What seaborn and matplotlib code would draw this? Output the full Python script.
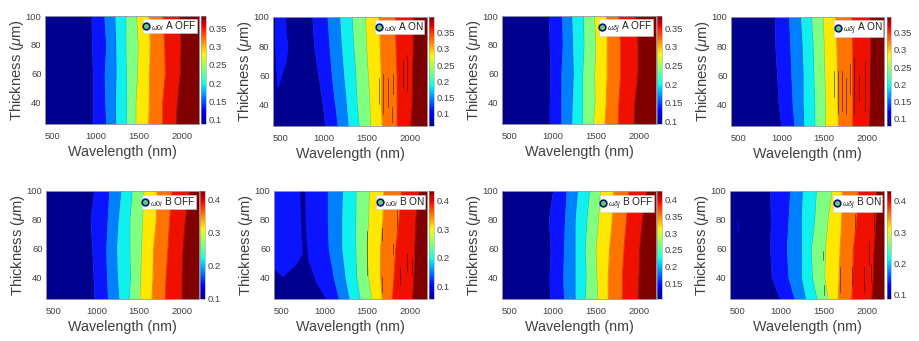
import matplotlib
matplotlib.use("Agg")
import matplotlib.pyplot as plt
import numpy as np
import pandas as pd
import seaborn as sns
from matplotlib.cm import ScalarMappable
from matplotlib.colors import Normalize
from matplotlib.lines import Line2D

thickness = [25, 40, 60, 80, 100]

a_off_0i = [[964,964,964,952,948],[1119,1107,1100,1119,1096],[1235,1231,1239,1235,1224],[1359,1359,1359,1351,1351],
            [1468,1468,1487,1495,1475],[1611,1619,1623,1630,1619],[1774,1774,1805,1797,1778],[1932,1944,1979,1987,1971]]
a_on_0i = [[1013,985,935,885,865],[1160,1129,1090,1063,1040],[1285,1265,1234,1207,1187],[1413,1390,1374,1351,1331],
           [1545,1537,1518,1498,1487],[1677,1665,1665,1654,1642],[1848,1848,1848,1836,1829],[2004,2023,2031,2035,2035]]
a_off_dj = [[961,961,969,961,950],[1097,1097,1097,1113,1105],[1222,1229,1241,1233,1222],[1350,1350,1350,1365,1357],
            [1474,1493,1489,1501,1486],[1602,1618,1629,1629,1622],[1757,1765,1785,1785,1765],[1940,1948,1987,1987,1960]]
a_on_dj = [[996,965,946,926,919],[1148,1128,1113,1101,1086],[1264,1256,1256,1245,1225],[1392,1392,1381,1373,1354],
           [1517,1517,1509,1501,1490],[1664,1656,1656,1645,1633],[1831,1831,1831,1831,1820],[2025,2033,2033,2041,2041]]
b_off_0i = [[975,964,948,929,972],[1132,1120,1112,1128,1147],[1264,1248,1237,1256,1288],[1385,1401,1393,1393,1420],
            [1510,1518,1529,1541,1557],[1646,1658,1666,1697,1705],[1802,1810,1833,1853,1880],[1997,1997,2009,2036,2083]]
b_on_0i = [[410,410,410,410,410],[1165,1106,1047,1036,1036],[1290,1243,1204,1204,1212],[1419,1380,1368,1368,1372],
           [1556,1517,1497,1517,1528],[1673,1653,1653,1681,1692],[1790,1810,1829,1868,1900],[2025,2044,2052,2064,2103]]
b_off_dj = [[964,960,972,952,999],[1127,1119,1127,1138,1158],[1262,1262,1262,1262,1289],[1379,1390,1379,1398,1429],
            [1526,1514,1503,1533,1553],[1642,1642,1657,1688,1708],[1805,1805,1824,1851,1882],[1987,1998,2006,2037,2084]]
b_on_dj = [[990,893,874,882,874],[1156,1087,1067,1087,1106],[1291,1241,1241,1241,1253],[1423,1369,1357,1396,1415],
           [1550,1512,1520,1550,1597],[1666,1674,1686,1705,1713],[1821,1833,1840,1879,1898],[2053,2072,2080,2103,2111]]

# isolated regions: wavelength, thickness outline
a_on_patch_wl = [457,449,441,433,433,433,566,566,589,573,519,480]
a_on_patch_t = [52,60,70,80,90,100,100,90,80,70,60,52]
b_on_navy_wl = [410,512,676,746,735,715,774,785,813,910,1020,410]
b_on_navy_t = [46,40,49,56,70,100,100,70,51.5,35.4,25,25]
b_on_dj_speck_wl = [500,514,500]
b_on_dj_speck_t = [70,75,80]

# dark streaks: wavelength, thickness start, thickness end
streaks_a_on_0i = [(1646,40,58),(1684,33,61),(1750,38,58),(1808,47,61),(1917,52,70),(1971,49,74),(2041,56,72),(2087,52,88),(2118,68,88),(1790,28,38)]
streaks_a_on_dj = [(1611,45,63),(1658,33,63),(1709,35,63),(1759,33,58),(1806,47,68),(1853,33,72),(1903,42,60),(1981,35,70),(2048,49,74),(2087,56,88)]
streaks_b_on_0i = [(1670,30,40),(1670,65,74),(1806,56,63),(1884,35,47),(1962,44,56),(2020,42,53),(1845,74,88),(1494,42,72)]
streaks_b_on_dj = [(1491,52,58),(1498,28,35),(1684,30,47),(1866,74,84),(1828,35,47),(1963,30,47),(2021,49,65),(2087,72,88),(2048,37,49)]

wl_limits = [410, 2200]
t_limits = [25, 100]
x_ticks = [500, 1000, 1500, 2000]
y_ticks = [40, 60, 80, 100]
ticks_a = [0.1, 0.15, 0.2, 0.25, 0.3, 0.35]
ticks_b = [0.1, 0.2, 0.3, 0.4]
ticks_b2 = [0.15, 0.2, 0.25, 0.3, 0.35, 0.4]

band_colors = ["#00008f", "#0a14ff", "#0080ff", "#12f0ee", "#80ff80", "#ffe800", "#ff7400", "#f01000", "#800000"]

panels = [
    dict(e=a_off_0i, lab=r"$_{\omega0i}$ A OFF", ax=(45,16,199,124), c=(201,206), lim=(0.088,0.384), t=ticks_a, lx=197, ly=19),
    dict(e=a_on_0i, lab=r"$_{\omega0i}$ A ON", ax=(273,17,427,126), c=(429,434), lim=(0.062,0.398), t=ticks_a, lx=424, ly=20, s=streaks_a_on_0i,
         patch=(a_on_patch_wl, a_on_patch_t, 1)),
    dict(e=a_off_dj, lab=r"$_{\omega\delta j}$ A OFF", ax=(502,16,656,124), c=(657,662), lim=(0.093,0.383), t=ticks_a, lx=653, ly=19),
    dict(e=a_on_dj, lab=r"$_{\omega\delta j}$ A ON", ax=(731,17,884,126), c=(887,891), lim=(0.079,0.395), t=ticks_a, lx=883, ly=20, s=streaks_a_on_dj),
    dict(e=b_off_0i, lab=r"$_{\omega0i}$ B OFF", ax=(46,191,199,299), c=(200,205), lim=(0.1,0.425), t=ticks_b, lx=196, ly=195),
    dict(e=b_on_0i, lab=r"$_{\omega0i}$ B ON", ax=(274,191,427,299), c=(429,434), lim=(0.056,0.435), t=ticks_b, lx=425, ly=195, s=streaks_b_on_0i,
         patch=(b_on_navy_wl, b_on_navy_t, 0)),
    dict(e=b_off_dj, lab=r"$_{\omega\delta j}$ B OFF", ax=(502,191,656,299), c=(657,662), lim=(0.104,0.425), t=ticks_b2, lx=654, ly=195),
    dict(e=b_on_dj, lab=r"$_{\omega\delta j}$ B ON", ax=(730,191,884,299), c=(887,891), lim=(0.086,0.432), t=ticks_b, lx=882, ly=195, s=streaks_b_on_dj,
         patch=(b_on_dj_speck_wl, b_on_dj_speck_t, 1)),
]

sns.set_theme(style="white")
plt.rcParams.update({
    "font.family": ["Liberation Sans", "DejaVu Sans"],
    "mathtext.fontset": "custom",
    "mathtext.rm": "Liberation Sans",
    "mathtext.it": "Liberation Sans:italic",
    "mathtext.bf": "Liberation Sans:bold",
    "text.color": "#404040",
    "axes.labelcolor": "#404040",
    "xtick.color": "#404040",
    "ytick.color": "#404040",
})

W, H = 920, 341
fig = plt.figure(figsize=(W / 100, H / 100), dpi=100)


def box(x0, y0, x1, y1):
    return [x0 / W, 1 - y1 / H, (x1 - x0) / W, (y1 - y0) / H]


for p in panels:
    ax = fig.add_axes(box(*p["ax"]))
    edges = [[wl_limits[0]] * 5] + p["e"] + [[wl_limits[1]] * 5]
    for i, col in enumerate(band_colors):
        ax.fill_betweenx(thickness, edges[i], edges[i + 1], color=col, lw=0.3, zorder=1)
    if "patch" in p:
        pw, pt, ci = p["patch"]
        ax.fill(pw, pt, color=band_colors[ci], lw=0, zorder=2)
    for j, e in enumerate(p["e"]):
        if j == 0 and e[0] == wl_limits[0]:
            continue
        df = pd.DataFrame({"wavelength": e, "t": thickness})
        sns.lineplot(data=df, x="wavelength", y="t", orient="y", sort=False, estimator=None,
                     color="#101010", lw=0.3, alpha=0.3, ax=ax, legend=False, zorder=3)
    for wl, t0, t1 in p.get("s", []):
        ax.plot([wl, wl], [t0, t1], color="#301010", lw=0.7, alpha=0.55, zorder=3)
    ax.set_xlim(wl_limits)
    ax.set_ylim(t_limits)
    ax.set_xticks(x_ticks)
    ax.set_yticks(y_ticks)
    ax.tick_params(axis="y", labelsize=6.8, length=1.5, width=0.4, direction="in", pad=2.5)
    ax.tick_params(axis="x", labelsize=6.8, length=1.5, width=0.4, direction="in", pad=5.5)
    ax.set_xlabel("Wavelength (nm)", fontsize=10.3, labelpad=2.8)
    ax.set_ylabel(r"Thickness ($\mu$m)", fontsize=10.6, labelpad=0)
    for s in ax.spines.values():
        s.set_color("#9a9aa8")
        s.set_linewidth(0.6)
    handle = Line2D([], [], ls="none", marker="o", ms=4.8, mfc="#60d060", mec="#101080", mew=1.2)
    lx = (p["lx"] - p["ax"][0]) / (p["ax"][2] - p["ax"][0])
    ly = (p["ax"][3] - p["ly"]) / (p["ax"][3] - p["ax"][1])
    leg = ax.legend([handle], [p["lab"]], loc="upper right", bbox_to_anchor=(lx, ly), borderaxespad=0,
                    frameon=True, fancybox=False, framealpha=1, facecolor="white", edgecolor="#d0d0d0",
                    fontsize=7.3, handlelength=0.65, handleheight=0.3, handletextpad=0.15, borderpad=0.02)
    leg.get_frame().set_linewidth(0.4)
    for txt in leg.get_texts():
        txt.set_color("#202020")

    cax = fig.add_axes(box(p["c"][0], p["ax"][1], p["c"][1], p["ax"][3]))
    sm = ScalarMappable(norm=Normalize(*p["lim"]), cmap="jet")
    cb = fig.colorbar(sm, cax=cax, ticks=p["t"])
    cb.ax.set_yticklabels([f"{v:g}" for v in p["t"]])
    cb.ax.tick_params(labelsize=6.8, length=1, width=0.3, direction="in", pad=2.2)
    cb.outline.set_edgecolor("#9a9aa8")
    cb.outline.set_linewidth(0.4)

fig.savefig("out.png", dpi=100)
